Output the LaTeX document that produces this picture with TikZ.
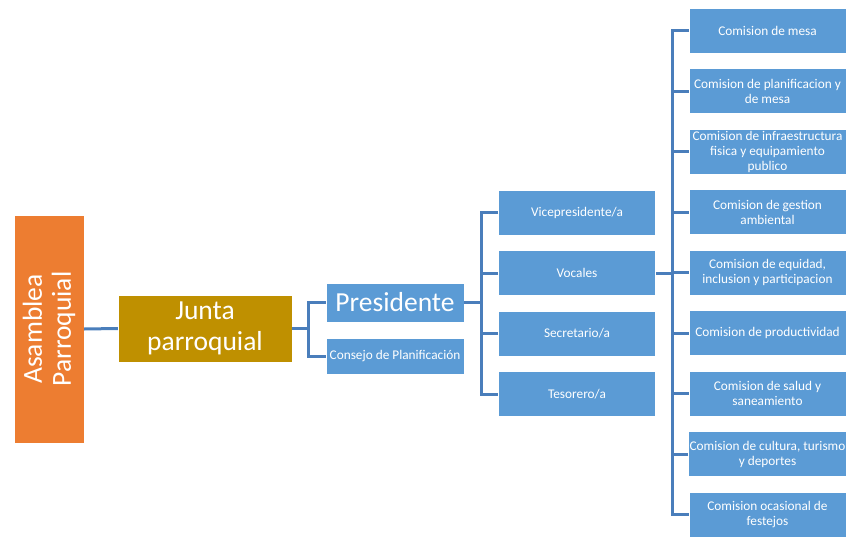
\documentclass[tikz,border=0pt]{standalone}
\usepackage{fontspec}
\setmainfont{Carlito}
\definecolor{boxblue}{HTML}{5B9BD5}
\definecolor{lineblue}{HTML}{4A7EBB}
\definecolor{naranja}{HTML}{ED7D31}
\definecolor{dorado}{HTML}{BF9000}

\tikzset{
  cargo/.style={draw=white, line width=0.6pt, fill=boxblue, text=white, align=center,
    inner sep=1pt, minimum width=157pt, minimum height=45pt, font=\fontsize{13.3}{15}\selectfont},
  enlace/.style={draw=lineblue, line width=3pt}
}

\begin{document}
\begin{tikzpicture}[x=1pt,y=-1pt]
  \useasboundingbox (0,0) rectangle (847,538);

  \node[draw=white, fill=naranja, text=white, rotate=90, font=\fontsize{27.5}{29}\selectfont,
    align=center, inner sep=0pt, minimum width=228pt, minimum height=70pt] (asamblea) at (49,329) {Asamblea\\Parroquial};
  \node[draw=white, fill=dorado, text=white, minimum width=174pt, minimum height=67pt,
    font=\fontsize{27.5}{31}\selectfont, align=center, inner sep=0pt] (junta) at (205,328.5) {Junta\\parroquial};

  \node[cargo, minimum width=138pt, minimum height=39pt, font=\fontsize{27.5}{31}\selectfont] (presidente) at (395,302.5) {Presidente};
  \node[cargo, minimum width=138pt, minimum height=36pt, font=\fontsize{13.3}{15}\selectfont] (consejo) at (395,356) {Consejo de Planificación};

  \node[cargo] (vice) at (577,212.5) {Vicepresidente/a};
  \node[cargo] (vocales) at (577,273) {Vocales};
  \node[cargo] (secretario) at (577,333.5) {Secretario/a};
  \node[cargo] (tesorero) at (577,394) {Tesorero/a};

  % comisiones
  \foreach \nombre/\texto [count=\i from 0] in {
      c1/Comision de mesa,
      c2/{Comision de planificacion y\\de mesa},
      c3/{Comision de infraestructura\\fisica y equipamiento\\publico},
      c4/{Comision de gestion\\ambiental},
      c5/{Comision de equidad,\\inclusion y participacion},
      c6/Comision de productividad,
      c7/{Comision de salud y\\saneamiento},
      c8/{Comision de cultura, turismo\\y deportes},
      c9/{Comision ocasional de\\festejos}}
    \node[cargo] (\nombre) at (767.5,30.5+60.5*\i) {\texto};

  % enlaces
  \draw[enlace] (asamblea.south) -- (junta.west);
  \draw[enlace] (junta.east) -- ++(16,0) coordinate (j1);
  \draw[enlace] (presidente.west) -| (j1) |- (consejo.west);

  \draw[enlace] (presidente.east) -- ++(17,0) coordinate (p1);
  \draw[enlace] (vice.west) -| (p1) |- (tesorero.west);
  \draw[enlace] (vocales.west) -- (vocales.west -| p1);
  \draw[enlace] (secretario.west) -- (secretario.west -| p1);

  \draw[enlace] (vocales.east) -- ++(17,0) coordinate (v1);
  \draw[enlace] (c1.west) -| (v1) |- (c9.west);
  \foreach \n in {c2,c3,c4,c5,c6,c7,c8}
    \draw[enlace] (\n.west) -- (\n.west -| v1);

\end{tikzpicture}
\end{document}
